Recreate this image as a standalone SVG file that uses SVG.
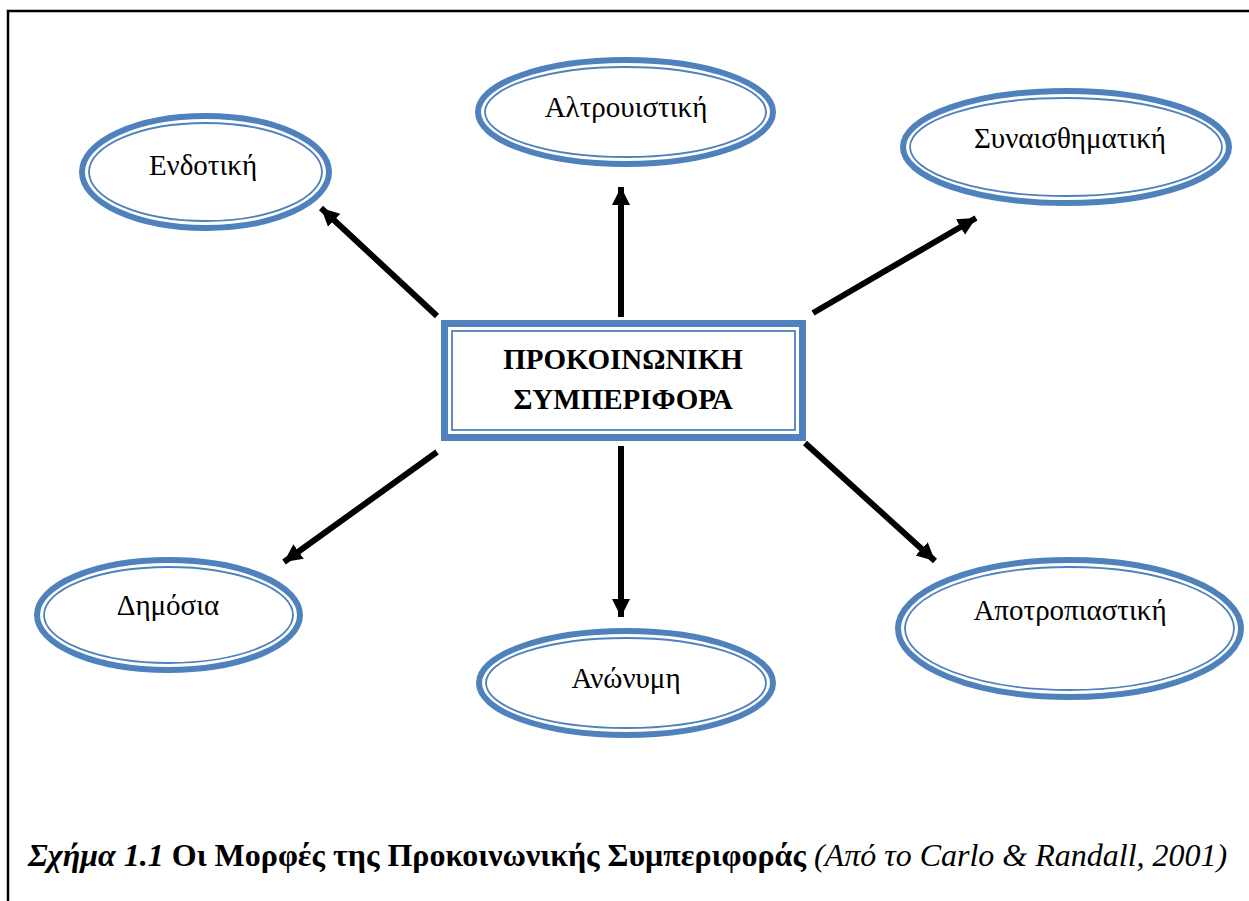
<svg xmlns="http://www.w3.org/2000/svg" width="1249" height="901" viewBox="0 0 1249 901">
<defs>
<marker id="ah" markerUnits="userSpaceOnUse" markerWidth="20" markerHeight="20" viewBox="0 0 20 20" refX="18" refY="10" orient="auto">
<path d="M0,1 L18,10 L0,19 Z" fill="#000"/>
</marker>
<style>
.ro{fill:#fff;stroke:#4F81BD;stroke-width:6}
.ri{fill:none;stroke:#4F81BD;stroke-width:1.8}
.lbl{font-family:"Liberation Serif","Times New Roman","DejaVu Serif",serif;font-size:29px;fill:#000;text-anchor:middle}
.ctr{font-family:"Liberation Serif","Times New Roman","DejaVu Serif",serif;font-size:29px;font-weight:bold;fill:#000;text-anchor:middle}
.cap{font-family:"Liberation Serif","Times New Roman","DejaVu Serif",serif;font-size:32px;fill:#000}
.arr{stroke:#000;stroke-width:6;fill:none;marker-end:url(#ah)}
</style>
</defs>
<rect width="1249" height="901" fill="#fff"/>
<path d="M8,901 L8,11 L1249,11" fill="none" stroke="#000" stroke-width="2.5"/>

<g id="connectors">
<line class="arr" x1="437" y1="316" x2="321" y2="208"/>
<line class="arr" x1="621" y1="317" x2="621" y2="187"/>
<line class="arr" x1="813" y1="313" x2="976" y2="218"/>
<line class="arr" x1="437" y1="452" x2="284" y2="562"/>
<line class="arr" x1="621" y1="446" x2="621" y2="617"/>
<line class="arr" x1="805" y1="443" x2="935" y2="561"/>
</g>

<g id="center">
<rect x="444.5" y="323.5" width="358" height="114" fill="#fff" stroke="#4F81BD" stroke-width="7"/>
<rect x="452" y="331" width="343" height="99" fill="none" stroke="#4F81BD" stroke-width="1.8"/>
<text class="ctr" x="623" y="369">ΠΡΟΚΟΙΝΩΝΙΚΗ</text>
<text class="ctr" x="623" y="409">ΣΥΜΠΕΡΙΦΟΡΑ</text>
</g>

<g id="endotiki">
<ellipse class="ro" cx="205.5" cy="172" rx="123.5" ry="56"/>
<ellipse class="ri" cx="205.5" cy="172" rx="116.5" ry="49"/>
<text class="lbl" x="203" y="175">Ενδοτική</text>
</g>

<g id="altrouistiki">
<ellipse class="ro" cx="625.5" cy="112" rx="147.5" ry="52"/>
<ellipse class="ri" cx="625.5" cy="112" rx="140.5" ry="45"/>
<text class="lbl" x="626" y="117">Αλτρουιστική</text>
</g>

<g id="synaisthimatiki">
<ellipse class="ro" cx="1066" cy="147" rx="163" ry="56"/>
<ellipse class="ri" cx="1066" cy="147" rx="156" ry="49"/>
<text class="lbl" x="1070" y="148">Συναισθηματική</text>
</g>

<g id="dimosia">
<ellipse class="ro" cx="168.5" cy="615" rx="131.5" ry="55"/>
<ellipse class="ri" cx="168.5" cy="615" rx="124.5" ry="48"/>
<text class="lbl" x="168" y="615">Δημόσια</text>
</g>

<g id="anonymi">
<ellipse class="ro" cx="626" cy="683" rx="147" ry="52"/>
<ellipse class="ri" cx="626" cy="683" rx="140" ry="45"/>
<text class="lbl" x="626" y="688">Ανώνυμη</text>
</g>

<g id="apotropiastiki">
<ellipse class="ro" cx="1069.5" cy="628.5" rx="171.5" ry="68.5"/>
<ellipse class="ri" cx="1069.5" cy="628.5" rx="164.5" ry="61.5"/>
<text class="lbl" x="1070" y="620">Αποτροπιαστική</text>
</g>

<text class="cap" x="28" y="866"><tspan font-style="italic" font-weight="bold">Σχήμα 1.1</tspan><tspan font-weight="bold"> Οι Μορφές της Προκοινωνικής Συμπεριφοράς</tspan><tspan font-style="italic"> (Από το Carlo &amp; Randall, 2001)</tspan></text>
</svg>
